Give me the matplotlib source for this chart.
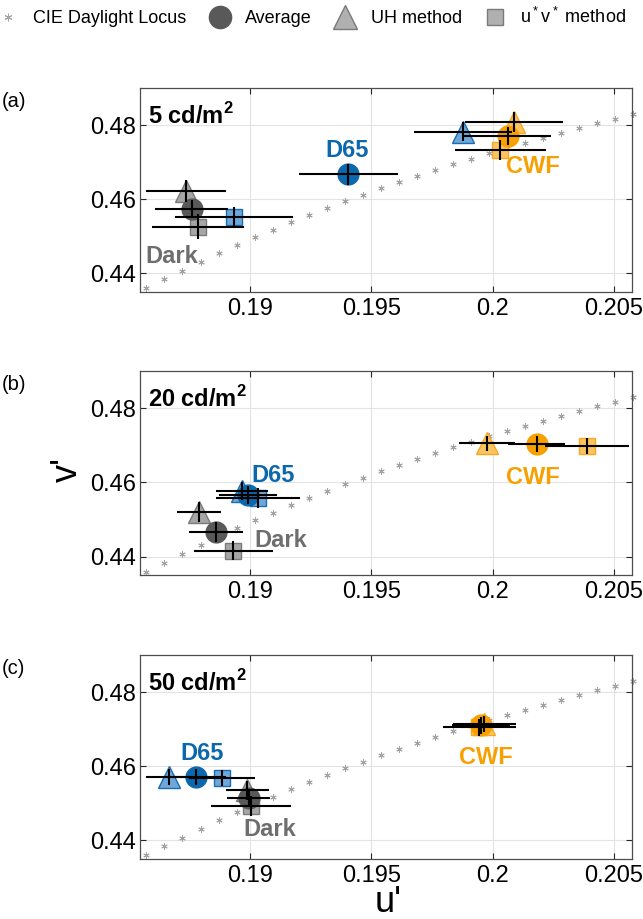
import matplotlib.pyplot as plt
from matplotlib.lines import Line2D

plt.rcParams['font.family'] = ['Liberation Sans', 'DejaVu Sans']
plt.rcParams['mathtext.fontset'] = 'custom'
plt.rcParams['mathtext.rm'] = 'Liberation Sans'
plt.rcParams['mathtext.bf'] = 'Liberation Sans:bold'

# CIE daylight locus (u', v')
locus_u = [0.18571, 0.18647, 0.18721, 0.18797, 0.18871, 0.18945, 0.19019, 0.19094,
           0.19168, 0.19242, 0.19316, 0.19390, 0.19465, 0.19539, 0.19613, 0.19687,
           0.19761, 0.19836, 0.19910, 0.19984, 0.20058, 0.20132, 0.20207, 0.20281,
           0.20355, 0.20429, 0.20503, 0.20578]
locus_v = [0.43595, 0.43838, 0.44070, 0.44314, 0.44541, 0.44765, 0.44973, 0.45178,
           0.45378, 0.45576, 0.45765, 0.45954, 0.46124, 0.46305, 0.46468, 0.46630,
           0.46792, 0.46946, 0.47097, 0.47243, 0.47386, 0.47530, 0.47665, 0.47800,
           0.47935, 0.48062, 0.48178, 0.48305]

panel_tags = ['(a)', '(b)', '(c)']
luminance = [r'5 cd/m$^{\mathbf{2}}$', r'20 cd/m$^{\mathbf{2}}$', r'50 cd/m$^{\mathbf{2}}$']
conditions = ['Dark', 'D65', 'CWF']
methods = ['Average', 'UH method', 'u$^*$v$^*$ method']

# rows: Dark, D65, CWF ; columns: Average, UH, u*v*
u_5 = [[0.18760, 0.18736, 0.18784], [0.19405, 0.19878, 0.18934], [0.20061, 0.20088, 0.20031]]
v_5 = [[0.45738, 0.46224, 0.45259], [0.46676, 0.47827, 0.45530], [0.47711, 0.48097, 0.47333]]
uerr_5 = [[0.00150, 0.00165, 0.00190], [0.00204, 0.00203, 0.00244], [0.00179, 0.00201, 0.00188]]
verr_5 = [[0.0025, 0.0029, 0.0034], [0.0029, 0.0025, 0.0027], [0.0025, 0.0027, 0.0028]]

u_20 = [[0.18860, 0.18791, 0.18931], [0.18993, 0.18966, 0.19033], [0.20182, 0.19976, 0.20388]]
v_20 = [[0.44674, 0.45213, 0.44162], [0.45663, 0.45771, 0.45582], [0.47030, 0.47057, 0.46992]]
uerr_20 = [[0.00111, 0.00091, 0.00162], [0.00120, 0.00107, 0.00172], [0.00117, 0.00115, 0.00172]]
verr_20 = [[0.0027, 0.0027, 0.0025], [0.0025, 0.0025, 0.0027], [0.0022, 0.0020, 0.0022]]

u_50 = [[0.18994, 0.18988, 0.19004], [0.18776, 0.18667, 0.18883], [0.19952, 0.19965, 0.19944]]
v_50 = [[0.45143, 0.45351, 0.44932], [0.45710, 0.45720, 0.45690], [0.47108, 0.47149, 0.47054]]
uerr_50 = [[0.00089, 0.00088, 0.00164], [0.00124, 0.00095, 0.00136], [0.00120, 0.00130, 0.00150]]
verr_50 = [[0.0025, 0.0025, 0.0028], [0.0022, 0.0022, 0.0022], [0.0022, 0.0022, 0.0022]]

# condition label positions (u', v' baseline) per panel
label_u = [[0.18676, 0.19400, 0.20167], [0.19127, 0.19096, 0.20164], [0.19083, 0.18802, 0.19973]]
label_v = [[0.44270, 0.47151, 0.46703], [0.44270, 0.46022, 0.45960], [0.44108, 0.46162, 0.46073]]

xticks = [0.19, 0.195, 0.2, 0.205]
xticklabels = ['0.19', '0.195', '0.2', '0.205']
yticks = [0.44, 0.46, 0.48]
yticklabels = ['0.44', '0.46', '0.48']

solid = {'Dark': '#595959', 'D65': '#0c68ad', 'CWF': '#f7a000'}
light = {'Dark': '#a6a6a6', 'D65': '#6fa8d8', 'CWF': '#fcc460'}
edge = {'Dark': '#7a7a7a', 'D65': '#1a6db0', 'CWF': '#f7a823'}
text_col = {'Dark': '#6e6e6e', 'D65': '#0c68ad', 'CWF': '#f7a000'}

data = [(u_5, v_5, uerr_5, verr_5), (u_20, v_20, uerr_20, verr_20), (u_50, v_50, uerr_50, verr_50)]

fig = plt.figure(figsize=(6.43, 9.19), dpi=100)
bottoms = [0.6823, 0.3743, 0.0653]

for p, (u, v, ue, ve) in enumerate(data):
    ax = fig.add_axes([0.218, bottoms[p], 0.7656, 0.222])
    ax.plot(locus_u, locus_v, ls='none', marker=(6, 2, 0), ms=4.5, mew=0.7,
            color='#a3a3a3', clip_on=False, zorder=1)
    for c, cond in enumerate(conditions):
        ax.plot(u[c][2], v[c][2], ls='none', marker='s', ms=11.5, mfc=light[cond],
                mec=edge[cond], mew=1.0, zorder=2)
        ax.plot(u[c][1], v[c][1], ls='none', marker='^', ms=16, mfc=light[cond],
                mec=edge[cond], mew=1.0, zorder=2)
        ax.plot(u[c][0], v[c][0], ls='none', marker='o', ms=15, color=solid[cond], zorder=2)
        ax.errorbar(u[c], v[c], xerr=ue[c], yerr=ve[c], fmt='none', ecolor='black',
                    elinewidth=1.5, capsize=0, zorder=3)
        ax.text(label_u[p][c], label_v[p][c], cond, color=text_col[cond], fontsize=17,
                fontweight='bold', ha='center', va='baseline')
    ax.text(0.016, 0.826, luminance[p], transform=ax.transAxes, fontsize=17,
            fontweight='bold', ha='left', va='baseline')
    ax.text(-0.2805, 0.936, panel_tags[p], transform=ax.transAxes, fontsize=14.5,
            ha='left', va='center')
    ax.set_xlim(0.18547, 0.20576)
    ax.set_ylim(0.435, 0.4901)
    ax.set_xticks(xticks)
    ax.set_xticklabels(xticklabels)
    ax.set_yticks(yticks)
    ax.set_yticklabels(yticklabels)
    ax.tick_params(direction='in', top=True, right=True, length=4, width=0.8,
                   labelsize=17, color='#262626')
    ax.tick_params(axis='x', pad=4)
    ax.tick_params(axis='y', pad=3)
    ax.grid(True, color='#e3e3e3', lw=0.8)
    ax.set_axisbelow(True)
    for s in ax.spines.values():
        s.set_color('#4d4d4d')
        s.set_linewidth(0.9)

fig.text(77 / 643, 1 - 470 / 919, "v'", fontsize=26, rotation=90, ha='center',
         va='baseline', rotation_mode='anchor')
fig.text(388 / 643, 1 - 912 / 919, "u'", fontsize=26, ha='center', va='baseline')

handles = [
    Line2D([], [], ls='none', marker=(6, 2, 0), ms=5.5, mew=0.7, color='#a3a3a3'),
    Line2D([], [], ls='none', marker='o', ms=16, color='#595959'),
    Line2D([], [], ls='none', marker='^', ms=17, mfc='#b0b0b0', mec='#7a7a7a'),
    Line2D([], [], ls='none', marker='s', ms=12, mfc='#b0b0b0', mec='#7a7a7a'),
]
fig.legend(handles, ['CIE Daylight Locus'] + methods, loc='center left',
           bbox_to_anchor=(-1 / 643, 1 - 17 / 919), ncol=4, frameon=False, fontsize=13,
           handlelength=1.0, handletextpad=0.9, columnspacing=1.35, borderpad=0,
           borderaxespad=0)

fig.savefig('out.png', dpi=100)
